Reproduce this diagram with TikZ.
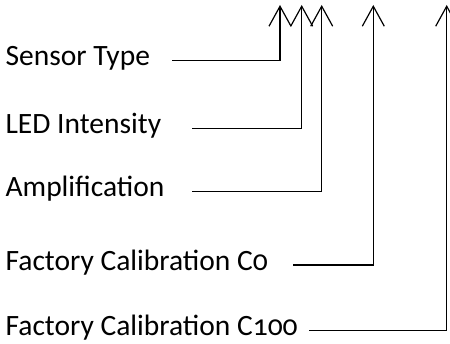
\documentclass[tikz,border=0pt]{standalone}
\usepackage{fontspec}
\setmainfont{Carlito}[Numbers=OldStyle]
\usetikzlibrary{arrows.meta}

\tikzset{every picture/.style={line width=1.2pt}}
\tikzset{
  label text/.style={anchor=base west,inner sep=0pt,font=\fontsize{29.5}{34}\selectfont},
  bus line/.style={line width=1.2pt,-{Straight Barb[length=20pt,width=22pt,line width=1.2pt]}}
}

\begin{document}
\begin{tikzpicture}[x=1pt,y=1pt,yscale=-1,xscale=1]
\useasboundingbox (0,0) rectangle (450,344);

% Text Nodes
\node[label text] (sensor) at (5,66) {Sensor Type};
\node[label text] (led) at (5,133.5) {LED Intensity};
\node[label text] (ampl) at (5,197) {Amplification};
\node[label text] (calzero) at (5,270.5) {Factory Calibration C0};
\node[label text] (calhund) at (5,336) {Factory Calibration C100};

% Line starts and arrow tips
\coordinate (sensor-start) at (172,60.7);
\coordinate (led-start) at (192,128.3);
\coordinate (ampl-start) at (192,191.7);
\coordinate (calzero-start) at (293,265);
\coordinate (calhund-start) at (309,330.7);
\coordinate (sensor-tip) at (280,5);
\coordinate (led-tip) at (301.7,5);
\coordinate (ampl-tip) at (321.7,5);
\coordinate (calzero-tip) at (373.3,5);
\coordinate (calhund-tip) at (446.7,5);

% Connectors
\draw[bus line] (sensor-start) -| (sensor-tip);
\draw[bus line] (led-start) -| (led-tip);
\draw[bus line] (ampl-start) -| (ampl-tip);
\draw[bus line] (calzero-start) -| (calzero-tip);
\draw[bus line] (calhund-start) -| (calhund-tip);

\end{tikzpicture}
\end{document}
